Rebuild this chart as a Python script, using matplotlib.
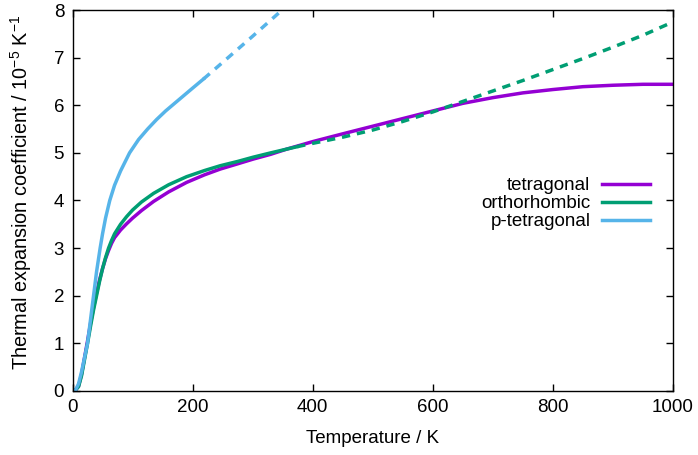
import matplotlib
matplotlib.use("Agg")
import matplotlib.pyplot as plt

plt.rcParams['font.family'] = ['Liberation Sans', 'DejaVu Sans']
plt.rcParams['lines.scale_dashes'] = False

# tetragonal (solid over whole range)
tet_T = [0, 5, 10, 15, 20, 25, 30, 35, 40, 45, 50, 55, 60, 65, 70, 80, 90, 100, 115,
         135, 160, 190, 220, 246, 275, 301, 330, 357, 401, 450, 500, 550, 600, 650,
         700, 750, 800, 850, 900, 950, 1000]
tet_a = [0, 0.02, 0.1, 0.35, 0.7, 1.05, 1.42, 1.75, 2.05, 2.33, 2.57, 2.78, 2.95, 3.1,
         3.22, 3.38, 3.51, 3.63, 3.79, 3.98, 4.18, 4.38, 4.54, 4.66, 4.77, 4.87, 4.97,
         5.08, 5.24, 5.40, 5.56, 5.72, 5.88, 6.04, 6.16, 6.26, 6.33, 6.39, 6.42, 6.44,
         6.44]

# orthorhombic solid part and dashed extrapolation
ort_T = [0, 5, 10, 15, 20, 25, 30, 35, 40, 45, 50, 55, 60, 65, 70, 80, 90, 100, 115,
         135, 160, 190, 220, 246, 275, 301, 330, 357, 374]
ort_a = [0, 0.02, 0.09, 0.32, 0.66, 1.0, 1.36, 1.7, 2.0, 2.3, 2.57, 2.8, 3.0, 3.16,
         3.3, 3.5, 3.66, 3.8, 3.97, 4.15, 4.33, 4.50, 4.63, 4.73, 4.82, 4.91, 5.0,
         5.08, 5.13]
ort_T_ext = [374, 400, 450, 500, 550, 600, 650, 700, 750, 800, 850, 900, 950, 1000]
ort_a_ext = [5.13, 5.20, 5.33, 5.48, 5.66, 5.86, 6.08, 6.30, 6.52, 6.75, 6.98, 7.22,
             7.47, 7.75]

# p-tetragonal solid part and dashed extrapolation
pt_T = [0, 5, 10, 15, 20, 25, 30, 35, 40, 46, 50, 55, 62, 70, 80, 95, 110, 125, 140,
        155, 170, 185, 200, 218]
pt_a = [0, 0.02, 0.15, 0.4, 0.7, 1.0, 1.5, 2.0, 2.5, 3.0, 3.3, 3.63, 4.0, 4.32, 4.62,
        5.0, 5.28, 5.5, 5.7, 5.88, 6.04, 6.2, 6.36, 6.55]
pt_T_ext = [218, 250, 300, 349, 360]
pt_a_ext = [6.55, 6.9, 7.45, 8.0, 8.12]

labels = ['tetragonal', 'orthorhombic', 'p-tetragonal']
colors = ['#9400D3', '#009E73', '#56B4E9']
xticks = [0, 200, 400, 600, 800, 1000]
yticks = [0, 1, 2, 3, 4, 5, 6, 7, 8]

fs = 13.5
fig = plt.figure(figsize=(6.98, 4.55), dpi=100)
ax = fig.add_axes([0.1039, 0.1407, 0.8603, 0.8373])

lw = 2.5
dash = (0, (6, 5))
l1, = ax.plot(tet_T, tet_a, color=colors[0], lw=lw, label=labels[0])
l2, = ax.plot(ort_T, ort_a, color=colors[1], lw=lw, label=labels[1])
ax.plot(ort_T_ext, ort_a_ext, color=colors[1], lw=lw, linestyle=dash)
l3, = ax.plot(pt_T, pt_a, color=colors[2], lw=lw, label=labels[2])
ax.plot(pt_T_ext, pt_a_ext, color=colors[2], lw=lw, linestyle=dash)

ax.set_xlim(0, 1000)
ax.set_ylim(0, 8)
ax.set_xticks(xticks)
ax.set_yticks(yticks)
ax.tick_params(direction='in', length=5, width=1, top=True, right=True,
               labelsize=fs, pad=6, colors='black')
for s in ax.spines.values():
    s.set_linewidth(1.0)

ax.set_xlabel('Temperature / K', fontsize=fs)
ax.set_ylabel('Thermal expansion coefficient / 10$^{\\mathregular{-5}}$ K$^{\\mathregular{-1}}$',
              fontsize=14.3)
ax.xaxis.set_label_coords(0.5, -0.103)
ax.yaxis.set_label_coords(-0.064, 0.522)

leg = ax.legend(handles=[l1, l2, l3], loc='upper right', bbox_to_anchor=(0.975, 0.581),
                frameon=False, markerfirst=False, fontsize=fs, handlelength=2.6,
                handletextpad=0.6, labelspacing=0.05, borderaxespad=0)

fig.savefig('out.png', dpi=100)
